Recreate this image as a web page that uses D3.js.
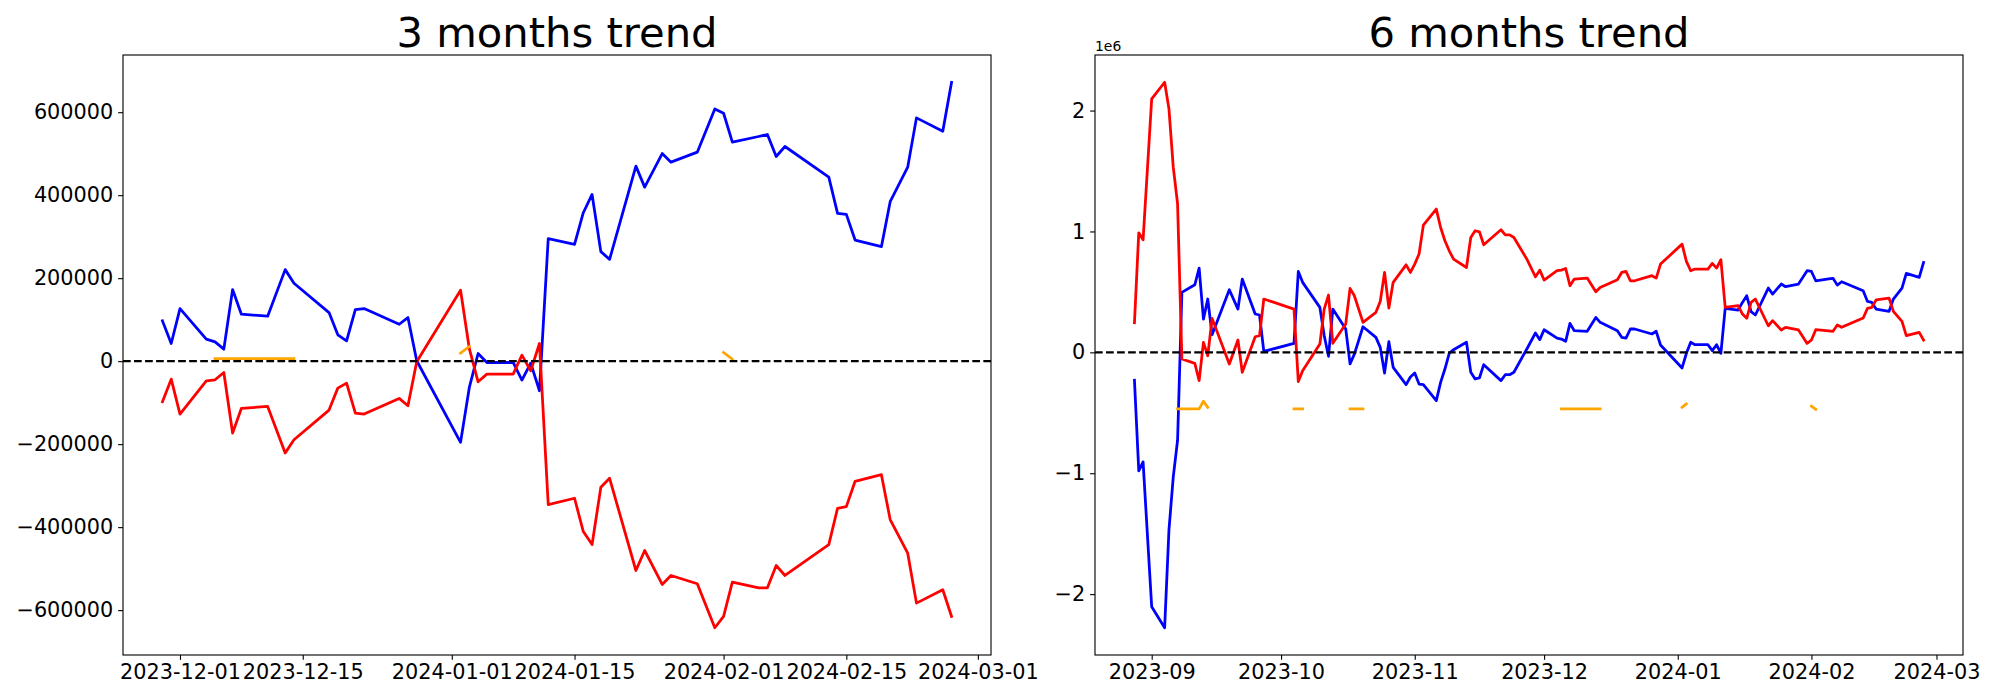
<!DOCTYPE html>
<html><head><meta charset="utf-8">
<script src="https://cdn.jsdelivr.net/npm/d3@7"></script>
<style>
body{margin:0;background:#fff;}
svg{display:block;}
text{font-family:"DejaVu Sans",sans-serif;fill:#000;}
</style>
</head><body>
<svg id="chart" width="2000" height="700"></svg>
<script>
// ---------------- DATA ----------------
const titles = ["3 months trend", "6 months trend"];

const dates3m = ["2023-11-29","2023-11-30","2023-12-01","2023-12-04","2023-12-05","2023-12-06","2023-12-07","2023-12-08",
"2023-12-11","2023-12-13","2023-12-14","2023-12-18","2023-12-19","2023-12-20","2023-12-21","2023-12-22",
"2023-12-26","2023-12-27","2023-12-28","2024-01-02","2024-01-03","2024-01-04","2024-01-05","2024-01-08",
"2024-01-09","2024-01-10","2024-01-11","2024-01-12","2024-01-15","2024-01-16","2024-01-17","2024-01-18",
"2024-01-19","2024-01-22","2024-01-23","2024-01-25","2024-01-26","2024-01-29","2024-01-31","2024-02-01",
"2024-02-02","2024-02-05","2024-02-06","2024-02-07","2024-02-08","2024-02-13","2024-02-14","2024-02-15",
"2024-02-16","2024-02-19","2024-02-20","2024-02-22","2024-02-23","2024-02-26","2024-02-27"];

const blue3m = [97000,42500,126700,53000,46500,28900,172500,113100,
108300,220600,187700,117100,63400,48900,124300,126700,
89000,105100,1000,-195700,-63400,18400,-3200,-3200,
-45700,-4800,-71400,295100,281500,357700,401800,263900,
245400,470000,419400,500400,479600,503700,607900,597500,
527700,541400,546200,493200,517300,443500,356100,353700,
291900,275900,384200,467600,586300,554200,672100];

const red3m = [-97900,-43300,-127500,-47300,-44900,-27300,-173300,-113900,
-109100,-221400,-189300,-117900,-65000,-52900,-125100,-127500,
-89800,-107500,-1600,170900,30000,-49700,-31300,-31300,
14400,-23300,42500,-345700,-330400,-410600,-441900,-304000,
-282300,-504500,-456300,-538100,-516500,-536500,-642400,-615100,
-532500,-546100,-546100,-492500,-516500,-442000,-354500,-350500,
-289500,-273500,-381800,-462800,-583100,-551000,-615100];

const orange3m = [null,null,null,null,6000,6000,6000,6000,
6000,6000,6000,null,null,null,null,null,
null,null,null,19300,35300,null,null,null,
null,null,null,null,null,null,null,null,
null,null,null,null,null,null,null,20900,
4800,null,null,null,null,null,null,null,
null,null,null,null,null,null,null];

const dates6m = ["2023-08-28","2023-08-29","2023-08-30","2023-09-01",
"2023-09-04","2023-09-05","2023-09-06","2023-09-07","2023-09-08",
"2023-09-11","2023-09-12","2023-09-13","2023-09-14","2023-09-15",
"2023-09-19","2023-09-21","2023-09-22",
"2023-09-25","2023-09-26","2023-09-27",
"2023-10-04","2023-10-05","2023-10-06",
"2023-10-10","2023-10-11","2023-10-12","2023-10-13",
"2023-10-16","2023-10-17","2023-10-18","2023-10-20",
"2023-10-23","2023-10-24","2023-10-25","2023-10-26","2023-10-27",
"2023-10-30","2023-10-31","2023-11-01","2023-11-02","2023-11-03",
"2023-11-06","2023-11-07","2023-11-08","2023-11-09","2023-11-10",
"2023-11-13","2023-11-14","2023-11-15","2023-11-16","2023-11-17",
"2023-11-21","2023-11-22","2023-11-23","2023-11-24",
"2023-11-27","2023-11-29","2023-11-30","2023-12-01",
"2023-12-04","2023-12-05","2023-12-06","2023-12-07","2023-12-08",
"2023-12-11","2023-12-13","2023-12-14",
"2023-12-18","2023-12-19","2023-12-20","2023-12-21","2023-12-22",
"2023-12-26","2023-12-27","2023-12-28",
"2024-01-02","2024-01-03","2024-01-04","2024-01-05",
"2024-01-08","2024-01-09","2024-01-10","2024-01-11","2024-01-12",
"2024-01-15","2024-01-16","2024-01-17","2024-01-18","2024-01-19",
"2024-01-22","2024-01-23","2024-01-25","2024-01-26",
"2024-01-29","2024-01-31","2024-02-01","2024-02-02",
"2024-02-05","2024-02-06","2024-02-07","2024-02-08",
"2024-02-13","2024-02-14","2024-02-15","2024-02-16",
"2024-02-19","2024-02-20","2024-02-22","2024-02-23",
"2024-02-26","2024-02-27"];

const blue6m = [-231000,-981000,-906000,-2105000,
-2278000,-1471000,-1030000,-727000,496000,
559000,697000,275000,441000,146000,
518000,358000,606000,
317000,309000,8000,
74000,669000,579000,
372000,140000,-33000,358000,
193000,-96000,-15000,212000,
124000,41000,-171000,88000,-124000,
-267000,-204000,-171000,-262000,-267000,
-399000,-248000,-138000,-8000,22000,
83000,-165000,-220000,-212000,-102000,
-234000,-185000,-185000,-165000,
28000,160000,105000,187000,
118000,110000,91000,240000,179000,
174000,289000,248000,
179000,124000,118000,193000,193000,
152000,174000,61000,
-129000,-8000,83000,63000,
63000,14000,63000,-8000,364000,
350000,413000,468000,336000,309000,
532000,482000,565000,543000,
565000,675000,669000,592000,
607000,612000,556000,584000,
510000,421000,413000,358000,
339000,441000,532000,653000,
620000,744000];

const red6m = [245000,989000,931000,2096000,
2234000,2014000,1532000,1229000,-55000,
-91000,-234000,83000,-28000,281000,
-96000,102000,-165000,
129000,138000,441000,
358000,-242000,-152000,
69000,358000,474000,75000,
235000,529000,468000,248000,
331000,421000,661000,366000,579000,
724000,661000,730000,813000,1052000,
1185000,1033000,923000,840000,771000,
702000,950000,1006000,997000,890000,
1014000,972000,972000,950000,
771000,625000,680000,598000,
675000,680000,694000,551000,606000,
614000,501000,537000,
601000,661000,669000,592000,592000,
634000,614000,730000,
895000,752000,675000,689000,
689000,736000,697000,766000,372000,
386000,317000,281000,413000,441000,
220000,262000,185000,207000,
185000,74000,102000,187000,
178000,174000,226000,207000,
284000,364000,372000,433000,
449000,339000,256000,138000,
165000,102000];

const orange6m = [null,null,null,null,
null,null,null,-468000,-468000,
-468000,-468000,-405000,-455000,null,
null,null,null,
null,null,null,
-468000,-468000,-468000,
null,null,null,null,
null,-468000,-468000,-468000,
null,null,null,null,null,
null,null,null,null,null,
null,null,null,null,null,
null,null,null,null,null,
null,null,null,null,
null,null,null,null,
null,-468000,-468000,-468000,-468000,
-468000,-468000,-468000,
null,null,null,null,null,
null,null,null,
-455000,-427000,null,null,
null,null,null,null,null,
null,null,null,null,null,
null,null,null,null,
null,null,-446000,-471000,
null,null,null,null,
null,null,null,null,
null,null,null,null,
null,null];

const xTicks3m = ["2023-12-01","2023-12-15","2024-01-01","2024-01-15","2024-02-01","2024-02-15","2024-03-01"];
const yTicks3m = [-600000,-400000,-200000,0,200000,400000,600000];
const xTicks6m = ["2023-09-01","2023-10-01","2023-11-01","2023-12-01","2024-01-01","2024-02-01","2024-03-01"];
const yTicks6m = [-2000000,-1000000,0,1000000,2000000];

// ---------------- DRAW ----------------
const parse = d3.utcParse("%Y-%m-%d");
const svg = d3.select("#chart");
const FS = 20.8;
const AX_TOP = 55, AX_BOT = 655;

function minusFmt(s){ return s.replace(/-/g, "\u2212"); }

function panel(cfg){
  const {left, right, dates, blue, red, orange, xTicks, xFmt, yTicks, yFmt, title, offsetText, id} = cfg;
  const dt = dates.map(parse);
  const dx = d3.extent(dt);
  const span = dx[1] - dx[0];
  const x = d3.scaleUtc().domain([new Date(+dx[0] - 0.05*span), new Date(+dx[1] + 0.05*span)]).range([left, right]);
  const allV = blue.concat(red, orange.filter(v => v != null));
  const [ymin, ymax] = d3.extent(allV);
  const ys = ymax - ymin;
  const y = d3.scaleLinear().domain([ymin - 0.05*ys, ymax + 0.05*ys]).range([AX_BOT, AX_TOP]);

  const g = svg.append("g");
  g.append("clipPath").attr("id", id).append("rect")
    .attr("x", left).attr("y", AX_TOP).attr("width", right-left).attr("height", AX_BOT-AX_TOP);

  const plot = g.append("g").attr("clip-path", `url(#${id})`);
  const mk = vals => d3.line().defined((d,i) => vals[i] != null).x((d,i) => x(dt[i])).y((d,i) => y(vals[i]));
  const series = [[blue, "#0000ff"], [red, "#ff0000"], [orange, "#ffa500"]];
  series.forEach(([vals, col]) => {
    plot.append("path").attr("d", mk(vals)(vals))
      .attr("fill", "none").attr("stroke", col).attr("stroke-width", 2.78)
      .attr("stroke-linejoin", "round").attr("stroke-linecap", "square");
  });
  plot.append("line").attr("x1", left).attr("x2", right).attr("y1", y(0)).attr("y2", y(0))
    .attr("stroke", "#000").attr("stroke-width", 2.08).attr("stroke-dasharray", "7.7 3.33");

  const xAxis = d3.axisBottom(x).tickValues(xTicks.map(parse)).tickFormat(xFmt).tickSize(4.86).tickPadding(4.86);
  const gx = g.append("g").attr("transform", `translate(0,${AX_BOT})`).call(xAxis);
  const yAxis = d3.axisLeft(y).tickValues(yTicks).tickFormat(yFmt).tickSize(4.86).tickPadding(4.86);
  const gy = g.append("g").attr("transform", `translate(${left},0)`).call(yAxis);
  [gx, gy].forEach(a => {
    a.select(".domain").remove();
    a.selectAll("line").attr("stroke", "#000").attr("stroke-width", 1.11);
    a.selectAll("text").attr("font-size", FS).attr("font-family", "DejaVu Sans").attr("fill", "#000");
  });

  g.append("rect").attr("x", left).attr("y", AX_TOP).attr("width", right-left).attr("height", AX_BOT-AX_TOP)
    .attr("fill", "none").attr("stroke", "#000").attr("stroke-width", 1.11);

  g.append("text").attr("x", (left+right)/2).attr("y", 46.7).attr("text-anchor", "middle")
    .attr("font-size", 41.7).text(title);

  if (offsetText) {
    g.append("text").attr("x", left).attr("y", 51).attr("font-size", 13.9).text(offsetText);
  }
}

panel({
  id: "clipL", left: 123, right: 991, dates: dates3m, blue: blue3m, red: red3m, orange: orange3m,
  xTicks: xTicks3m, xFmt: d3.utcFormat("%Y-%m-%d"),
  yTicks: yTicks3m, yFmt: v => minusFmt(String(v)), title: titles[0]
});
panel({
  id: "clipR", left: 1095, right: 1963, dates: dates6m, blue: blue6m, red: red6m, orange: orange6m,
  xTicks: xTicks6m, xFmt: d3.utcFormat("%Y-%m"),
  yTicks: yTicks6m, yFmt: v => minusFmt(String(v/1e6)), title: titles[1], offsetText: "1e6"
});
</script>
</body></html>
